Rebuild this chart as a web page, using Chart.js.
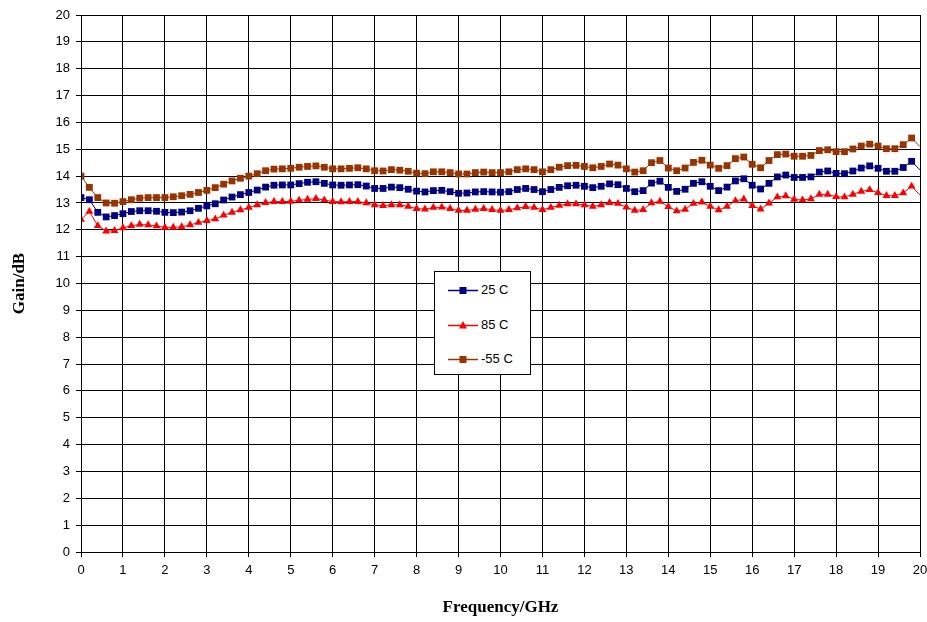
<!DOCTYPE html>
<html>
<head>
<meta charset="utf-8">
<script src="https://cdn.jsdelivr.net/npm/chart.js@4.4.1/dist/chart.umd.min.js"></script>
<style>
  html, body { margin: 0; padding: 0; background: #fff; }
  #wrap { position: relative; width: 927px; height: 622px; }
  #legend {
    position: absolute; left: 434px; top: 271px; width: 95px; height: 102px;
    border: 1px solid #000; background: #fff;
    font-family: "Liberation Sans", Arial, sans-serif; font-size: 13px; color: #000;
  }
  .row { position: absolute; left: 13px; height: 16px; }
  .row canvas { position: absolute; left: 0; top: 0; }
  .row span { position: absolute; left: 33px; top: 0; line-height: 16px; white-space: nowrap; }
</style>
</head>
<body>
<div id="wrap">
  <canvas id="chart" width="927" height="622"></canvas>
  <div id="legend"></div>
</div>
<script>
// frequency points, GHz
const freq = [
  0, 0.2, 0.4, 0.6, 0.8, 1, 1.2, 1.4, 1.6, 1.8, 2, 2.2, 2.4, 2.6, 2.8, 3, 3.2, 3.4, 3.6, 3.8,
  4, 4.2, 4.4, 4.6, 4.8, 5, 5.2, 5.4, 5.6, 5.8, 6, 6.2, 6.4, 6.6, 6.8, 7, 7.2, 7.4, 7.6, 7.8,
  8, 8.2, 8.4, 8.6, 8.8, 9, 9.2, 9.4, 9.6, 9.8, 10, 10.2, 10.4, 10.6, 10.8, 11, 11.2, 11.4, 11.6, 11.8,
  12, 12.2, 12.4, 12.6, 12.8, 13, 13.2, 13.4, 13.6, 13.8, 14, 14.2, 14.4, 14.6, 14.8, 15, 15.2, 15.4, 15.6, 15.8,
  16, 16.2, 16.4, 16.6, 16.8, 17, 17.2, 17.4, 17.6, 17.8, 18, 18.2, 18.4, 18.6, 18.8, 19, 19.2, 19.4, 19.6, 19.8, 20
];

const gain25 = [
  13.2, 13.12, 12.65, 12.48, 12.53, 12.6, 12.68, 12.71, 12.71, 12.69, 12.65, 12.64, 12.66, 12.71, 12.8, 12.89, 12.97, 13.11, 13.22, 13.31,
  13.39, 13.48, 13.59, 13.66, 13.67, 13.67, 13.72, 13.77, 13.79, 13.73, 13.67, 13.66, 13.67, 13.68, 13.63, 13.54, 13.54, 13.59, 13.57, 13.51,
  13.44, 13.41, 13.46, 13.47, 13.42, 13.36, 13.37, 13.41, 13.42, 13.41, 13.4, 13.42, 13.5, 13.54, 13.5, 13.42, 13.5, 13.58, 13.64, 13.66,
  13.62, 13.57, 13.62, 13.71, 13.68, 13.54, 13.42, 13.46, 13.74, 13.81, 13.58, 13.43, 13.51, 13.73, 13.79, 13.62, 13.46, 13.59, 13.82, 13.9,
  13.66, 13.52, 13.73, 13.97, 14.04, 13.95, 13.95, 13.97, 14.15, 14.19, 14.1, 14.09, 14.19, 14.3, 14.38, 14.29, 14.18, 14.18, 14.32, 14.55, 14.23
];

const gain85 = [
  12.39, 12.68, 12.15, 11.95, 11.97, 12.07, 12.15, 12.2, 12.18, 12.14, 12.09, 12.09, 12.11, 12.18, 12.27, 12.34, 12.4, 12.54, 12.65, 12.74,
  12.83, 12.93, 13.01, 13.05, 13.05, 13.06, 13.1, 13.13, 13.16, 13.11, 13.05, 13.04, 13.05, 13.05, 13.0, 12.93, 12.9, 12.93, 12.93, 12.87,
  12.79, 12.77, 12.83, 12.84, 12.79, 12.72, 12.72, 12.76, 12.79, 12.75, 12.72, 12.75, 12.81, 12.86, 12.83, 12.75, 12.83, 12.91, 12.96, 12.96,
  12.93, 12.87, 12.93, 13.01, 12.98, 12.84, 12.72, 12.75, 13.0, 13.06, 12.86, 12.7, 12.76, 12.98, 13.03, 12.87, 12.74, 12.87, 13.08, 13.14,
  12.9, 12.77, 12.99, 13.22, 13.26, 13.13, 13.11, 13.15, 13.32, 13.32, 13.23, 13.22, 13.32, 13.43, 13.49, 13.38, 13.27, 13.27, 13.37, 13.62, 13.29
];

const gainM55 = [
  14.0, 13.58, 13.2, 13.0, 12.99, 13.05, 13.12, 13.18, 13.2, 13.2, 13.2, 13.23, 13.27, 13.32, 13.39, 13.47, 13.57, 13.7, 13.82, 13.92,
  14.0, 14.09, 14.2, 14.26, 14.27, 14.29, 14.33, 14.36, 14.38, 14.33, 14.27, 14.27, 14.29, 14.31, 14.27, 14.2, 14.19, 14.24, 14.22, 14.18,
  14.11, 14.09, 14.16, 14.16, 14.13, 14.08, 14.08, 14.13, 14.15, 14.13, 14.13, 14.16, 14.24, 14.27, 14.24, 14.16, 14.24, 14.33, 14.39, 14.4,
  14.36, 14.31, 14.36, 14.45, 14.41, 14.27, 14.15, 14.2, 14.5, 14.58, 14.3, 14.2, 14.3, 14.51, 14.59, 14.41, 14.29, 14.39, 14.65, 14.71,
  14.44, 14.31, 14.58, 14.8, 14.82, 14.74, 14.74, 14.77, 14.95, 14.98, 14.91, 14.91, 15.01, 15.12, 15.19, 15.12, 15.02, 15.02, 15.17, 15.42, 15.1
];

const seriesNames = ['25 C', '85 C', '-55 C'];
const seriesColors = ['#000080', '#FF0000', '#993300'];
const seriesMarkers = ['rect', 'triangle', 'rect'];

const yTicks = [0, 1, 2, 3, 4, 5, 6, 7, 8, 9, 10, 11, 12, 13, 14, 15, 16, 17, 18, 19, 20];
const xTicks = [0, 1, 2, 3, 4, 5, 6, 7, 8, 9, 10, 11, 12, 13, 14, 15, 16, 17, 18, 19, 20];

const allGain = [gain25, gain85, gainM55];

function toPoints(vals) {
    return freq.map((f, i) => ({ x: f, y: vals[i] }));
}

const datasets = allGain.map((vals, k) => {
    const r = seriesMarkers[k] === 'rect' ? 4.8 : 4.6;
    return {
        label: seriesNames[k],
        data: toPoints(vals),
        borderColor: seriesColors[k],
        backgroundColor: seriesColors[k],
        borderWidth: 1,
        pointStyle: seriesMarkers[k],
        // marker on the right border is not shown in the original
        pointRadius: (ctx) => (ctx.dataIndex === freq.length - 1 ? 0 : r),
        pointBorderWidth: 0,
        pointHoverRadius: 0,
        tension: 0,
    };
});

const tickFont = { family: '"Liberation Sans", Arial, sans-serif', size: 13 };
const titleFont = { family: '"Liberation Serif", "Times New Roman", serif', size: 17, weight: 'bold' };

new Chart(document.getElementById('chart'), {
    type: 'line',
    data: { datasets: datasets },
    options: {
        responsive: false,
        animation: false,
        events: [],
        layout: { padding: { top: 15, right: 0, left: 1, bottom: 0 } },
        plugins: {
            legend: { display: false },
            tooltip: { enabled: false },
        },
        scales: {
            x: {
                type: 'linear',
                min: 0,
                max: 20,
                afterBuildTicks: (s) => { s.ticks = xTicks.map(v => ({ value: v })); },
                afterFit: (s) => { s.height = 70; s.paddingRight = 7; s.paddingLeft = 0; },
                grid: { color: '#000', tickLength: 5, drawTicks: true },
                border: { color: '#000', width: 1 },
                ticks: { color: '#000', font: tickFont, padding: 6, maxRotation: 0 },
                title: { display: true, text: 'Frequency/GHz', color: '#000', font: titleFont, padding: { top: 14 } },
            },
            y: {
                type: 'linear',
                min: 0,
                max: 20,
                afterBuildTicks: (s) => { s.ticks = yTicks.map(v => ({ value: v })); },
                afterFit: (s) => { s.width = 80; },
                grid: { color: '#000', tickLength: 5, drawTicks: true },
                border: { color: '#000', width: 1 },
                ticks: { color: '#000', font: tickFont, padding: 6 },
                title: { display: true, text: 'Gain/dB', color: '#000', font: titleFont, padding: { bottom: 0, top: 8 } },
            },
        },
    },
    plugins: [{
        id: 'frame',
        afterDraw(chart) {
            const a = chart.chartArea, c = chart.ctx;
            c.save();
            c.strokeStyle = '#000';
            c.lineWidth = 1;
            c.strokeRect(Math.round(a.left) + 0.5, Math.round(a.top) + 0.5,
                Math.round(a.right - a.left), Math.round(a.bottom - a.top));
            c.restore();
        }
    }]
});

// legend
const legend = document.getElementById('legend');
const rowTops = [10, 45, 79];
seriesNames.forEach((name, k) => {
    const row = document.createElement('div');
    row.className = 'row';
    row.style.top = rowTops[k] + 'px';
    const cv = document.createElement('canvas');
    cv.width = 30; cv.height = 16;
    const g = cv.getContext('2d');
    g.strokeStyle = seriesColors[k];
    g.lineWidth = 1.5;
    g.beginPath(); g.moveTo(0, 8.5); g.lineTo(30, 8.5); g.stroke();
    g.fillStyle = seriesColors[k];
    if (seriesMarkers[k] === 'rect') {
        g.fillRect(11.5, 5, 7, 7);
    } else {
        g.beginPath(); g.moveTo(15, 4); g.lineTo(19, 11.5); g.lineTo(11, 11.5); g.closePath(); g.fill();
    }
    const sp = document.createElement('span');
    sp.textContent = name;
    row.appendChild(cv);
    row.appendChild(sp);
    legend.appendChild(row);
});
</script>
</body>
</html>
